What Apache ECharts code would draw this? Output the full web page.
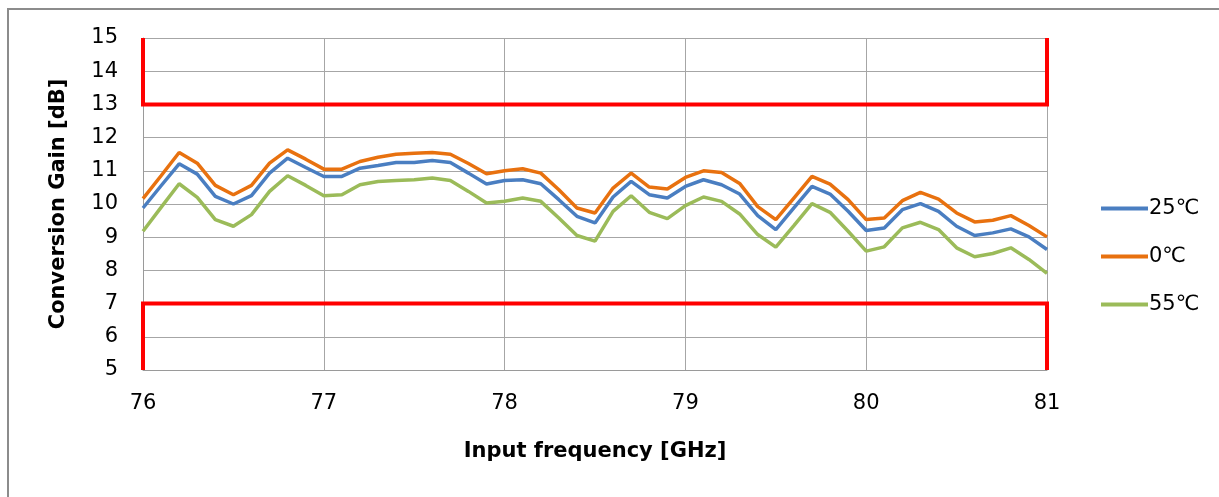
<!DOCTYPE html>
<html>
<head>
<meta charset="utf-8">
<script src="https://cdn.jsdelivr.net/npm/echarts@6/dist/echarts.min.js"></script>
<style>
html,body{margin:0;padding:0;background:#fff;}
#chart{width:1219px;height:497px;}
</style>
</head>
<body>
<div id="chart"></div>
<script>
const freq = [76.0,76.1,76.2,76.3,76.4,76.5,76.6,76.7,76.8,76.9,
  77.0,77.1,77.2,77.3,77.4,77.5,77.6,77.7,77.8,77.9,
  78.0,78.1,78.2,78.3,78.4,78.5,78.6,78.7,78.8,78.9,
  79.0,79.1,79.2,79.3,79.4,79.5,79.6,79.7,79.8,79.9,
  80.0,80.1,80.2,80.3,80.4,80.5,80.6,80.7,80.8,80.9,81.0];

const gain25 = [9.88,10.55,11.21,10.90,10.23,10.00,10.25,10.93,11.38,11.10,
  10.83,10.83,11.08,11.16,11.25,11.25,11.31,11.25,10.93,10.60,
  10.71,10.73,10.61,10.13,9.63,9.43,10.21,10.68,10.28,10.18,
  10.53,10.73,10.58,10.30,9.65,9.23,9.88,10.53,10.30,9.78,
  9.20,9.28,9.83,10.01,9.78,9.33,9.05,9.13,9.25,9.01,8.63];

const gain0 = [10.16,10.85,11.55,11.23,10.56,10.28,10.56,11.23,11.63,11.35,
  11.05,11.05,11.28,11.41,11.50,11.53,11.55,11.50,11.22,10.91,
  11.00,11.06,10.93,10.43,9.88,9.73,10.48,10.93,10.51,10.45,
  10.80,11.00,10.95,10.62,9.92,9.53,10.18,10.83,10.60,10.13,
  9.53,9.58,10.10,10.35,10.15,9.73,9.46,9.51,9.65,9.35,9.01];

const gain55 = [9.18,9.90,10.61,10.20,9.53,9.33,9.68,10.38,10.85,10.56,
  10.25,10.28,10.58,10.68,10.71,10.73,10.78,10.71,10.38,10.03,
  10.08,10.18,10.08,9.58,9.05,8.88,9.78,10.25,9.75,9.56,
  9.95,10.21,10.08,9.70,9.08,8.70,9.35,10.01,9.75,9.18,
  8.58,8.71,9.28,9.45,9.23,8.68,8.41,8.51,8.68,8.33,7.91];

const seriesNames = ['25℃','0℃','55℃'];
const seriesColors = ['#4A7EC1','#E8710F','#9BBB59'];

// spec limit frame (red)
const upperLimitX = [76, 76, 81, 81];
const upperLimitY = [15, 13, 13, 15];
const lowerLimitX = [76, 76, 81, 81];
const lowerLimitY = [5, 7, 7, 5];

const xTicks = [76, 77, 78, 79, 80, 81];
const yTicks = [5, 6, 7, 8, 9, 10, 11, 12, 13, 14, 15];

function pairs(xs, ys){ return xs.map((x,i)=>[x, ys[i]]); }

const FONT = '"DejaVu Sans", Verdana, sans-serif';
const chart = echarts.init(document.getElementById('chart'), null, {renderer:'canvas'});

const dataSets = [gain25, gain0, gain55];
const lineSeries = dataSets.map((d,i)=>({
  name: seriesNames[i],
  type: 'line',
  data: pairs(freq, d),
  symbol: 'none',
  smooth: false,
  color: seriesColors[i],
  lineStyle: {width: 3.5, color: seriesColors[i]},
  z: 3
}));

const limitStyle = {width: 4, color: '#FF0000', join: 'miter', cap: 'butt'};

chart.setOption({
  animation: false,
  backgroundColor: '#fff',
  graphic: [{
    type: 'rect',
    shape: {x: 8, y: 9, width: 1300, height: 600},
    style: {fill: 'none', stroke: '#8c8c8c', lineWidth: 2},
    silent: true, z: -1
  }],
  grid: {left: 143, right: 172, top: 38, bottom: 127, containLabel: false},
  legend: {
    orient: 'vertical',
    left: 1096,
    top: 193,
    itemWidth: 47,
    itemHeight: 14,
    itemGap: 27,
    data: seriesNames,
    textStyle: {fontFamily: FONT, fontSize: 21, color: '#000', padding: [0,0,0,-4]},
    icon: 'path://M0,6 L47,6 L47,10 L0,10 Z'
  },
  xAxis: {
    type: 'value',
    min: 76, max: 81, interval: 1,
    name: 'Input frequency [GHz]',
    nameLocation: 'middle',
    nameGap: 71,
    nameTextStyle: {fontFamily: FONT, fontSize: 21, fontWeight: 'bold', color: '#000'},
    axisLine: {show: true, lineStyle: {color: '#9a9a9a', width: 1}},
    axisTick: {show: false},
    axisLabel: {fontFamily: FONT, fontSize: 21, color: '#000', margin: 23,
      formatter: v => xTicks.includes(v) ? String(v) : ''},
    splitLine: {show: true, lineStyle: {color: '#a6a6a6', width: 1}}
  },
  yAxis: {
    type: 'value',
    min: 5, max: 15, interval: 1,
    name: 'Conversion Gain [dB]',
    nameLocation: 'middle',
    nameGap: 74,
    nameTextStyle: {fontFamily: FONT, fontSize: 21, fontWeight: 'bold', color: '#000'},
    axisLine: {show: true, lineStyle: {color: '#9a9a9a', width: 1}},
    axisTick: {show: false},
    axisLabel: {fontFamily: FONT, fontSize: 21, color: '#000', margin: 25,
      formatter: v => yTicks.includes(v) ? String(v) : ''},
    splitLine: {show: true, lineStyle: {color: '#a6a6a6', width: 1}}
  },
  series: lineSeries.concat([
    {name: 'upper', type: 'line', data: pairs(upperLimitX, upperLimitY), symbol: 'none',
     lineStyle: limitStyle, color: '#FF0000', clip: false, z: 4, silent: true},
    {name: 'lower', type: 'line', data: pairs(lowerLimitX, lowerLimitY), symbol: 'none',
     lineStyle: limitStyle, color: '#FF0000', clip: false, z: 4, silent: true}
  ])
});
</script>
</body>
</html>
